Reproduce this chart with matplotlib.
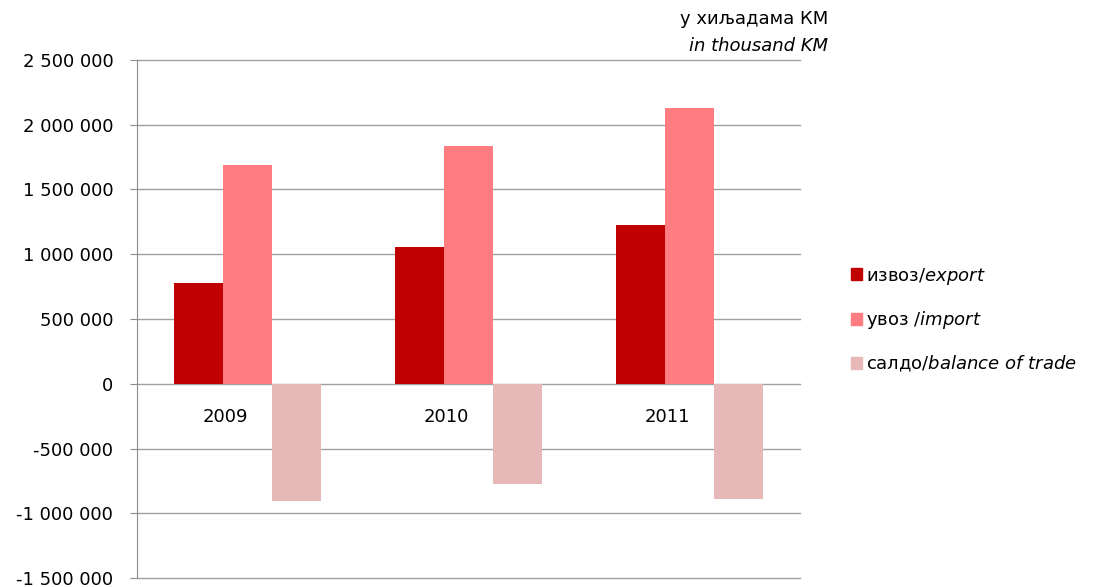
import matplotlib.pyplot as plt
import numpy as np
from matplotlib.patches import Patch
from matplotlib.ticker import FuncFormatter

years = ["2009", "2010", "2011"]
export = [780000, 1057000, 1228000]
imports = [1692000, 1836000, 2128000]
balance = [-905000, -773000, -890000]
series_labels = [
    "извоз$\\it{/export}$",
    "увоз $\\it{/import}$",
    "салдо$\\it{/balance\\ of\\ trade}$",
]
colors = ["#C00000", "#FF7C80", "#E6B9B8"]

plt.rcParams["font.family"] = "DejaVu Sans"
plt.rcParams["mathtext.fontset"] = "dejavusans"

fig = plt.figure(figsize=(10.95, 5.87), dpi=100)
ax = fig.add_axes([0.125, 0.0153, 0.6056, 0.8825])

x = np.arange(len(years))
w = 0.222
for k, vals in enumerate([export, imports, balance]):
    ax.bar(x + (k - 1) * w, vals, width=w, color=colors[k], zorder=3)

ax.set_xlim(-0.5, 2.5)
ax.set_ylim(-1500000, 2500000)
ax.set_yticks(np.arange(-1500000, 2500001, 500000))
ax.yaxis.set_major_formatter(
    FuncFormatter(lambda v, _: f"{int(v):,}".replace(",", " "))
)
ax.grid(axis="y", color="#A0A0A0", linewidth=1, zorder=0)
for gl in ax.get_ygridlines():
    gl.set_clip_on(False)
ax.set_xticks([])
for s in ["top", "right", "bottom"]:
    ax.spines[s].set_visible(False)
ax.spines["left"].set_color("#8C8C8C")
ax.tick_params(axis="y", length=5, color="#8C8C8C", labelsize=13, pad=12)

for i, yr in enumerate(years):
    ax.annotate(yr, xy=(i - 0.1, 0), xytext=(0, -24), textcoords="offset points",
                ha="center", va="center", fontsize=13)

fig.text(0.756, 0.968, "у хиљадама КМ", ha="right", va="center", fontsize=13)
fig.text(0.756, 0.922, "in thousand KM", ha="right", va="center", fontsize=13,
         style="italic")

handles = [Patch(color=c) for c in colors]
fig.legend(handles, series_labels, loc="center left", bbox_to_anchor=(0.762, 0.455),
           frameon=False, fontsize=13, handlelength=0.65, handleheight=0.65,
           handletextpad=0.2, labelspacing=1.25)

fig.savefig("out.png", dpi=100)
